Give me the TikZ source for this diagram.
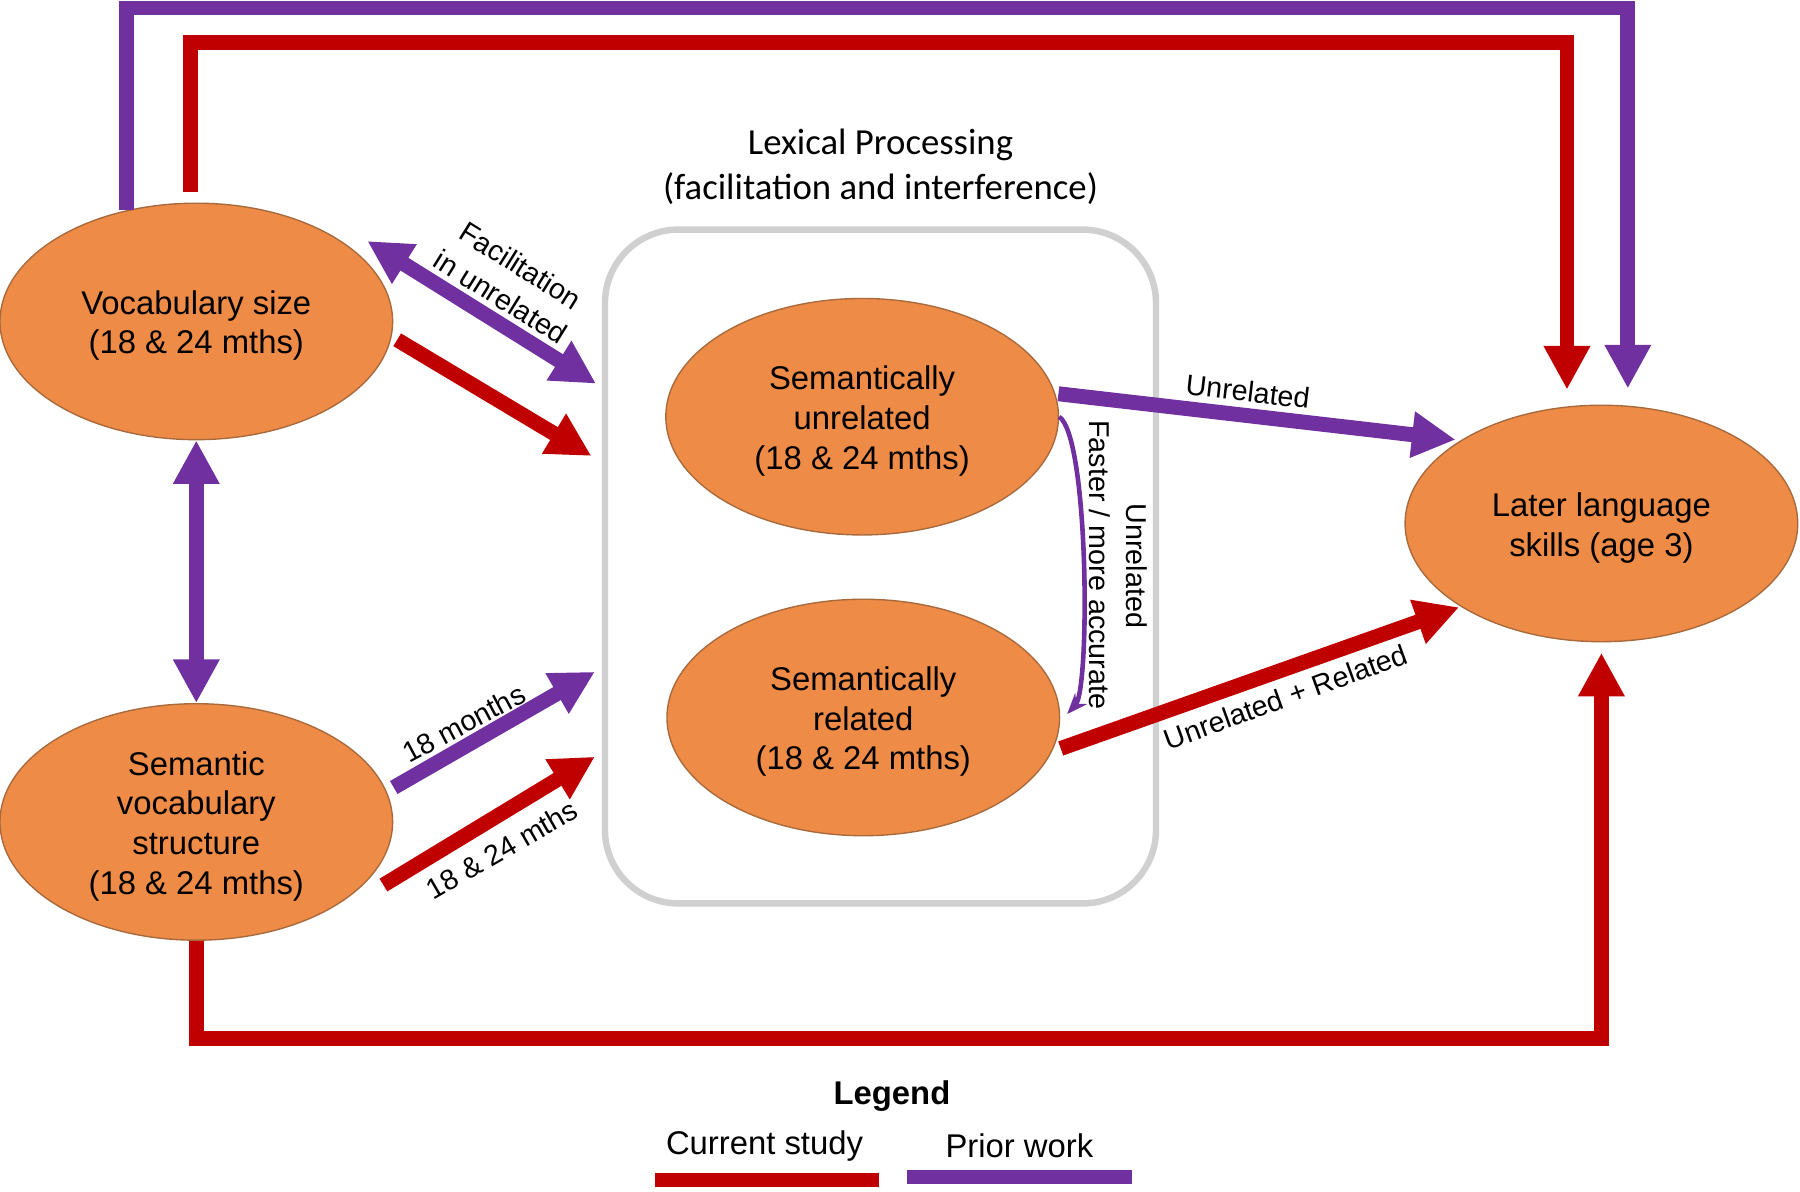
\documentclass[tikz,border=0pt]{standalone}
\usepackage{fontspec}
\setmainfont{Liberation Sans}
\newfontfamily\calibrifont{Carlito}
\usetikzlibrary{arrows.meta,shapes.geometric,calc}
\definecolor{cRed}{HTML}{C00000}
\definecolor{cPur}{HTML}{7030A0}
\definecolor{cOra}{HTML}{EE8B47}
\definecolor{cBorder}{HTML}{A86A3C}
\definecolor{cBox}{HTML}{D0D0D0}
\newcommand{\ovstrut}{\rule{0pt}{14pt}}
\begin{document}
\begin{tikzpicture}[x=0.5pt,y=-0.5pt,
  oval/.style={ellipse, fill=cOra, draw=cBorder, line width=0.6pt,
    minimum width=171pt, minimum height=103pt, inner sep=0pt, align=center,
    font=\fontsize{14.3}{17.3}\selectfont},
  redarr/.style={draw=cRed, line width=6.5pt, -{Triangle[length=19pt,width=19pt]}},
  purarr/.style={draw=cPur, line width=6.5pt, -{Triangle[length=19pt,width=19pt]}},
  purdbl/.style={draw=cPur, line width=6.5pt, {Triangle[length=19pt,width=19pt]}-{Triangle[length=19pt,width=19pt]}},
  lab/.style={inner sep=0pt, align=center, font=\fontsize{12.5}{16.2}\selectfont},
  legtext/.style={inner sep=0pt, font=\fontsize{14.3}{17}\selectfont}
]
\useasboundingbox (0,0) rectangle (1568,1038);

% lexical processing box
\node[draw=cBox, line width=2.8pt, rounded corners=32pt, minimum width=240pt,
      minimum height=293.5pt, inner sep=0pt] (box) at (767,493.5) {};
\node[font=\calibrifont\fontsize{16}{19.5}\selectfont, align=center, inner sep=0pt]
  (title) at (767,145) {Lexical Processing\\(facilitation and interference)};

% ellipses
\node[oval] (vs)  at (171,280)  {\ovstrut Vocabulary size\\(18 \& 24 mths)};
\node[oval] (svs) at (171,716)  {\ovstrut Semantic\\vocabulary\\structure\\(18 \& 24 mths)};
\node[oval] (su)  at (751,363)  {\ovstrut Semantically\\unrelated\\(18 \& 24 mths)};
\node[oval] (sr)  at (752,625)  {\ovstrut Semantically\\related\\(18 \& 24 mths)};
\node[oval] (ls)  at (1395,456) {\ovstrut Later language\\skills (age 3)};

% corner coordinates
\coordinate (ptc) at (1418,7);
\coordinate (rtc) at (1365,37);
\coordinate (rbc) at (1395,905);

% long connectors
\draw[purarr] (vs.122) |- (ptc) -- ($(ls.north)+(23,-14)$);
\draw[redarr] ($(vs.north)+(-5,-9)$) |- (rtc) -- ($(ls.north)+(-30,-13)$);
\draw[redarr] (svs.south) |- (rbc) -- ($(ls.south)+(0,9)$);

% left side
\draw[purdbl] (vs.south) -- (svs.north);
\draw[purdbl] ($(vs.center)+(149,-70)$) -- ($(box.north west)+(-5,137)$);
\draw[redarr] ($(vs.center)+(175,16)$) -- ($(box.north west)+(-9,200)$);
\draw[purarr] ($(svs.center)+(172,-30)$) -- ($(box.north west)+(-6,388)$);
\draw[redarr] ($(svs.center)+(163,55)$) -- ($(box.north west)+(-6,462)$);

% right side
\draw[purarr] ($(su.center)+(171,-20)$) -- ($(ls.center)+(-127,-73)$);
\draw[redarr] ($(sr.center)+(172,27)$) -- ($(ls.center)+(-124,73)$);
\draw[cPur, line width=2pt, -{Stealth[length=9pt,width=7pt]}]
  (su.east) .. controls ($(su.east)+(26,17)$) and ($(sr.east)+(26,-25)$) .. ($(sr.east)+(6,-3)$);

% labels
\node[lab, rotate=-32] (l1) at (445,245) {Facilitation\\in unrelated};
\node[lab, rotate=28]  (l2) at (404,630) {18 months};
\node[lab, rotate=30]  (l3) at (437,740) {18 \& 24 mths};
\node[lab, rotate=-6.6] (l4) at (1087,341) {Unrelated};
\node[lab, rotate=20]  (l5) at (1120,607) {Unrelated + Related};
\node[lab, rotate=-90] (l6) at (958,492) {Faster / more accurate};
\node[lab, rotate=-90] (l7) at (990,493) {Unrelated};

% legend
\node[legtext, font=\bfseries\fontsize{14.3}{17}\selectfont] (leg) at (777,955) {Legend};
\node[legtext] (cur) at (666,998) {Current study};
\node[legtext] (pri) at (888,998) {Prior work};
\draw[cRed, line width=6pt] (571,1028) -- (766,1028);
\draw[cPur, line width=6pt] (790,1025) -- (986,1025);
\end{tikzpicture}
\end{document}
